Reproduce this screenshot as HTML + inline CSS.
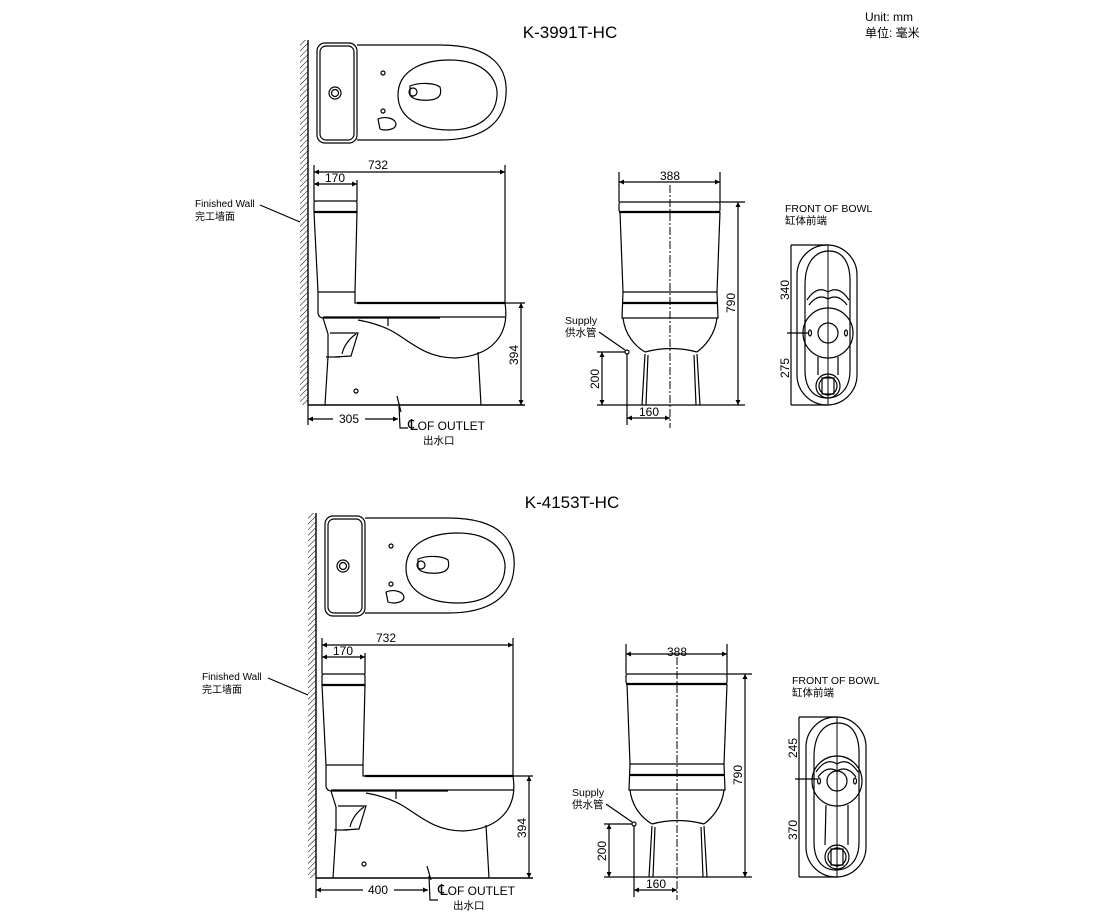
<!DOCTYPE html>
<html><head><meta charset="utf-8"><style>
html,body{margin:0;padding:0;background:#fff;}
svg{display:block;}
text{font-family:"Liberation Sans","Noto Sans CJK SC",sans-serif;fill:#000;}
.d{font-size:12px;}
.s{font-size:10.5px;}
.w{font-size:10px;}
.cl{font-size:15px;}
</style></head><body>
<svg width="1120" height="920" viewBox="0 0 1120 920" xmlns="http://www.w3.org/2000/svg">
<defs>
<marker id="a" viewBox="0 0 10 10" refX="10" refY="5" markerWidth="7" markerHeight="5" markerUnits="userSpaceOnUse" orient="auto-start-reverse"><path d="M0,0 L10,5 L0,10 Z" fill="#000"/></marker>
<pattern id="h" width="4" height="4" patternUnits="userSpaceOnUse" patternTransform="rotate(45)"><line x1="0" y1="0" x2="0" y2="4" stroke="#000" stroke-width="1"/></pattern>

<g id="left" fill="none" stroke="#000" stroke-width="1.2">
 <rect x="300" y="40" width="8" height="365" fill="url(#h)" stroke="none"/>
 <line x1="308" y1="40" x2="308" y2="405" stroke-width="1.4"/>
 <rect x="317" y="43" width="40" height="100" rx="8"/>
 <rect x="320" y="46" width="34" height="94" rx="6"/>
 <path d="M357,45 L440,45 C495,45 508,70 506,95 C504,125 480,140 440,140 L357,140"/>
 <path d="M398,95 C398,72 420,60 450,60 C485,60 498,80 497,95 C496,115 480,130 450,130 C420,130 398,118 398,95 Z"/>
 <path d="M410,86 C420,82 435,83 440,87 C442,94 440,99 430,100 C420,101 412,99 410,95 Z"/>
 <circle cx="413" cy="92" r="4"/>
 <circle cx="335" cy="93" r="6"/><circle cx="335" cy="93" r="3.5"/>
 <circle cx="383" cy="73" r="2"/><circle cx="383" cy="111" r="2"/>
 <path d="M378,119 C385,116 395,118 396,124 C396,130 385,131 380,129 Z"/>
 <path d="M316,201 L355,201 Q357,201 357,203 L357,212 L314,212 L314,203 Q314,201 316,201 Z"/>
 <line x1="314" y1="212" x2="357" y2="212" stroke-width="2.2"/>
 <path d="M314,212 L318,292 L355,292 L357,212"/>
 <path d="M318,292 L318,312 Q318,318 324,318 L440,318"/>
 <path d="M355,292 L355,303 L505,303" />
 <line x1="357" y1="303" x2="505" y2="303" stroke-width="2.2"/>
 <line x1="323" y1="317" x2="505" y2="317"/>
 <path d="M505,303 C510,335 492,356 455,358 C430,358 415,346 400,336 C390,329 375,323 358,320"/>
 <line x1="388" y1="317" x2="388" y2="326"/>
 <path d="M323,318 L328,334 L328,357"/>
 <path d="M330,333 L358,333 L351,356 L335,357"/>
 <path d="M342,354 C344,345 350,338 356,334"/>
 <path d="M326,357 L340,357"/>
 <line x1="328" y1="357" x2="325" y2="405"/>
 <line x1="478" y1="352" x2="481" y2="405"/>
 <circle cx="356" cy="391" r="2"/>
 <line x1="308" y1="405" x2="525" y2="405" stroke-width="1.4"/>
 <line x1="314" y1="165" x2="314" y2="201"/>
 <line x1="505" y1="165" x2="505" y2="303"/>
 <line x1="314" y1="172" x2="505" y2="172" marker-start="url(#a)" marker-end="url(#a)"/>
 <line x1="357" y1="180" x2="357" y2="201"/>
 <line x1="314" y1="184" x2="357" y2="184" marker-start="url(#a)" marker-end="url(#a)"/>
 <line x1="505" y1="303" x2="525" y2="303"/>
 <line x1="521" y1="303" x2="521" y2="405" marker-start="url(#a)" marker-end="url(#a)"/>
 <line x1="308" y1="405" x2="308" y2="425"/>
 <line x1="260" y1="205" x2="300" y2="222"/>
</g>

<g id="mid" fill="none" stroke="#000" stroke-width="1.2">
 <rect x="619" y="202" width="101" height="10" rx="2"/>
 <line x1="619" y1="212" x2="720" y2="212" stroke-width="2.2"/>
 <path d="M620,212 L623,292 L717,292 L720,212"/>
 <path d="M623,292 L622,318 L718,318 L717,292"/>
 <line x1="622" y1="303" x2="718" y2="303" stroke-width="2.2"/>
 <path d="M623,318 C625,335 635,346 645,352"/>
 <path d="M717,318 C715,335 705,346 697,352"/>
 <path d="M645,352 Q671,345 697,352"/>
 <path d="M645,354 L642,405 M648,355 L646,405 M697,354 L700,405 M694,355 L696,405"/>
 <line x1="642" y1="405" x2="700" y2="405"/>
 <line x1="670" y1="185" x2="670" y2="428" stroke-dasharray="8,2,2,2" stroke-width="1"/>
 <line x1="619" y1="172" x2="619" y2="202"/><line x1="720" y1="172" x2="720" y2="202"/>
 <line x1="619" y1="182" x2="720" y2="182" marker-start="url(#a)" marker-end="url(#a)"/>
 <line x1="720" y1="202" x2="745" y2="202"/><line x1="700" y1="405" x2="745" y2="405"/>
 <line x1="738" y1="202" x2="738" y2="405" marker-start="url(#a)" marker-end="url(#a)"/>
 <circle cx="627" cy="352" r="2"/>
 <line x1="599" y1="332" x2="625" y2="350"/>
 <line x1="597" y1="352" x2="625" y2="352"/><line x1="597" y1="405" x2="642" y2="405"/>
 <line x1="602" y1="352" x2="602" y2="405" marker-start="url(#a)" marker-end="url(#a)"/>
 <line x1="627" y1="354" x2="627" y2="425"/>
 <line x1="627" y1="418" x2="670" y2="418" marker-start="url(#a)" marker-end="url(#a)"/>
</g>

<g id="bowl" fill="none" stroke="#000" stroke-width="1.2">
 <rect x="0" y="0" width="60" height="160" rx="30"/>
 <path d="M8,40 C8,15 20,6 32,6 C44,6 54,15 53,40 L53,125 C53,145 42,153 30,153 C18,153 8,145 8,125 Z"/>
 <path d="M10,55 Q20,40 31,47 Q42,40 52,55"/>
 <path d="M12,60 Q21,48 31,54 Q41,48 50,60"/>
 <line x1="31" y1="0" x2="31" y2="160" stroke-width="1"/>
</g>
</defs>

<text x="570" y="38" text-anchor="middle" style="font-size:17px">K-3991T-HC</text>
<text x="865" y="21" style="font-size:12px">Unit: mm</text>
<text x="865" y="37" style="font-size:12px">单位: 毫米</text>

<use href="#left"/>
<use href="#mid"/>
<text class="d" x="378" y="169" text-anchor="middle">732</text>
<text class="d" x="335" y="182" text-anchor="middle">170</text>
<text class="d" transform="translate(518,355) rotate(-90)" text-anchor="middle">394</text>
<line x1="308" y1="419" x2="333" y2="419" stroke="#000" stroke-width="1.2" marker-start="url(#a)"/>
<line x1="365" y1="419" x2="398" y2="419" stroke="#000" stroke-width="1.2" marker-end="url(#a)"/>
<text class="d" x="349" y="423" text-anchor="middle">305</text>
<path d="M397,396 L401,412 M399,405 L400,428 L408,428" fill="none" stroke="#000" stroke-width="1.2"/>
<text class="d" x="408" y="430"><tspan class="cl">℄</tspan>OF OUTLET</text>
<text class="s" x="423" y="444">出水口</text>
<text class="w" x="195" y="207">Finished Wall</text>
<text class="w" x="195" y="220">完工墙面</text>
<text class="d" x="670" y="180" text-anchor="middle">388</text>
<text class="d" transform="translate(735,303) rotate(-90)" text-anchor="middle">790</text>
<text class="s" x="565" y="324">Supply</text>
<text class="s" x="565" y="336">供水管</text>
<text class="d" transform="translate(599,379) rotate(-90)" text-anchor="middle">200</text>
<text class="d" x="649" y="416" text-anchor="middle">160</text>
<text class="s" x="785" y="212">FRONT OF BOWL</text>
<text class="s" x="785" y="224">缸体前端</text>
<use href="#bowl" transform="translate(797,245)"/>
<g fill="none" stroke="#000" stroke-width="1.2">
 <circle cx="828" cy="333" r="25"/><circle cx="828" cy="333" r="10"/>
 <ellipse cx="810" cy="333" rx="1.5" ry="3"/><ellipse cx="846" cy="333" rx="1.5" ry="3"/>
 <path d="M818,357 L818,375 M838,357 L838,375"/>
 <circle cx="828" cy="386" r="12"/><circle cx="828" cy="386" r="9"/>
 <rect x="822" y="378" width="12" height="16"/>
 <line x1="791" y1="245" x2="828" y2="245"/><line x1="791" y1="405" x2="828" y2="405"/>
 <line x1="791" y1="245" x2="791" y2="405"/>
 <line x1="787" y1="333" x2="808" y2="333"/>
</g>
<text class="d" transform="translate(789,290) rotate(-90)" text-anchor="middle">340</text>
<text class="d" transform="translate(789,368) rotate(-90)" text-anchor="middle">275</text>

<text x="572" y="508" text-anchor="middle" style="font-size:17px">K-4153T-HC</text>
<use href="#left" transform="translate(8,473)"/>
<use href="#mid" transform="translate(7,472)"/>
<text class="d" x="386" y="642" text-anchor="middle">732</text>
<text class="d" x="343" y="655" text-anchor="middle">170</text>
<text class="d" transform="translate(526,828) rotate(-90)" text-anchor="middle">394</text>
<line x1="316" y1="890" x2="363" y2="890" stroke="#000" stroke-width="1.2" marker-start="url(#a)"/>
<line x1="394" y1="890" x2="428" y2="890" stroke="#000" stroke-width="1.2" marker-end="url(#a)"/>
<text class="d" x="378" y="894" text-anchor="middle">400</text>
<path d="M427,866 L431,880 M429,876 L430,900 L438,900" fill="none" stroke="#000" stroke-width="1.2"/>
<text class="d" x="438" y="895"><tspan class="cl">℄</tspan>OF OUTLET</text>
<text class="s" x="453" y="909">出水口</text>
<text class="w" x="202" y="680">Finished Wall</text>
<text class="w" x="202" y="693">完工墙面</text>
<text class="d" x="677" y="656" text-anchor="middle">388</text>
<text class="d" transform="translate(742,775) rotate(-90)" text-anchor="middle">790</text>
<text class="s" x="572" y="796">Supply</text>
<text class="s" x="572" y="808">供水管</text>
<text class="d" transform="translate(606,851) rotate(-90)" text-anchor="middle">200</text>
<text class="d" x="656" y="888" text-anchor="middle">160</text>
<text class="s" x="792" y="684">FRONT OF BOWL</text>
<text class="s" x="792" y="696">缸体前端</text>
<use href="#bowl" transform="translate(806,717)"/>
<g fill="none" stroke="#000" stroke-width="1.2">
 <circle cx="837" cy="781" r="25"/><circle cx="837" cy="781" r="10"/>
 <ellipse cx="819" cy="781" rx="1.5" ry="3"/><ellipse cx="855" cy="781" rx="1.5" ry="3"/>
 <path d="M826,805 L825,845 M848,805 L848,845"/>
 <circle cx="837" cy="857" r="12"/><circle cx="837" cy="857" r="9"/>
 <rect x="831" y="849" width="12" height="16"/>
 <line x1="799" y1="717" x2="837" y2="717"/><line x1="799" y1="877" x2="837" y2="877"/>
 <line x1="799" y1="717" x2="799" y2="877"/>
 <line x1="795" y1="779" x2="817" y2="779"/>
</g>
<text class="d" transform="translate(797,748) rotate(-90)" text-anchor="middle">245</text>
<text class="d" transform="translate(797,830) rotate(-90)" text-anchor="middle">370</text>
</svg>
</body></html>
